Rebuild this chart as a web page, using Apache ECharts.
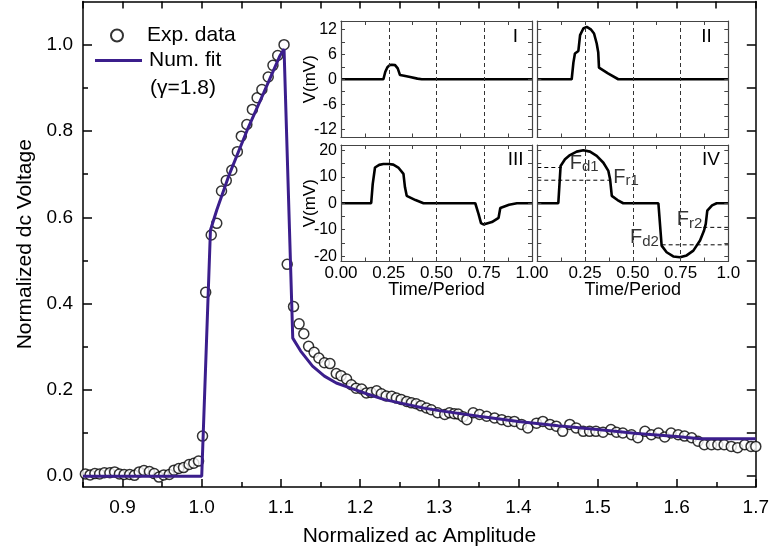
<!DOCTYPE html>
<html><head><meta charset="utf-8">
<script src="https://cdn.jsdelivr.net/npm/echarts@6/dist/echarts.min.js"></script>
<style>html,body{margin:0;padding:0;background:#fff}#c{width:772px;height:552px}</style>
</head><body><div id="c"></div>
<script>
// ---------- main chart data ----------
const expX = [0.853,0.859,0.865,0.871,0.877,0.884,0.890,0.896,0.902,0.909,0.915,0.921,0.927,0.934,0.940,0.946,0.952,0.959,0.965,0.971,0.977,0.984,0.990,0.996,1.001,
1.005,1.012,1.019,1.025,1.031,1.038,1.045,1.050,1.057,1.064,1.070,1.076,1.084,1.090,1.096,1.104,
1.108,1.116,1.123,1.129,1.135,1.142,1.148,1.155,1.162,1.170,1.176,1.183,1.189,1.195,1.202,1.208,1.214,1.221,1.227,1.233,1.240,1.246,1.252,1.259,1.265,1.271,1.277,1.284,1.290,1.298,
1.307,1.313,1.319,1.324,1.330,1.335,1.343,1.351,1.360,1.370,1.379,1.387,1.395,1.404,1.412,1.423,1.431,1.440,1.448,1.456,1.465,1.473,1.482,1.490,1.498,
1.507,1.517,1.524,1.532,1.543,1.551,1.560,1.568,1.577,1.585,1.593,1.602,1.610,1.619,1.627,1.635,1.644,1.652,1.660,1.669,1.677,1.686,1.694,1.700];
const expY = [0.005,0.003,0.006,0.005,0.008,0.008,0.010,0.005,0.004,0.004,0.002,0.010,0.013,0.011,0.006,-0.002,0.003,0.004,0.014,0.018,0.020,0.027,0.030,0.035,0.093,
0.426,0.559,0.586,0.661,0.685,0.709,0.752,0.788,0.815,0.850,0.877,0.896,0.925,0.952,0.975,1.000,
0.491,0.393,0.353,0.330,0.301,0.287,0.274,0.263,0.261,0.238,0.233,0.225,0.212,0.204,0.202,0.193,0.194,0.198,0.191,0.186,0.185,0.181,0.178,0.173,0.170,0.168,0.163,0.158,0.154,0.147,
0.143,0.147,0.145,0.144,0.138,0.131,0.147,0.143,0.139,0.135,0.131,0.127,0.127,0.120,0.112,0.123,0.127,0.120,0.116,0.104,0.120,0.112,0.104,0.104,0.104,
0.102,0.108,0.102,0.100,0.096,0.089,0.104,0.096,0.100,0.091,0.100,0.096,0.093,0.089,0.081,0.073,0.073,0.073,0.073,0.069,0.066,0.073,0.069,0.069];
const fitX = [0.85,1.0,1.011,1.019,1.035,1.057,1.078,1.099,1.104,1.115,1.125,1.14,1.155,1.17,1.19,1.21,1.23,1.25,1.28,1.3,1.35,1.4,1.45,1.5,1.55,1.6,1.63,1.7];
const fitY = [0.0,0.0,0.57,0.617,0.70,0.80,0.887,0.975,0.99,0.32,0.29,0.255,0.232,0.216,0.203,0.19,0.178,0.17,0.158,0.152,0.139,0.127,0.117,0.108,0.099,0.092,0.087,0.087];

const mainXLabels = [0.9,1.0,1.1,1.2,1.3,1.4,1.5,1.6,1.7];
const mainXMinorTicks = [0.85,0.95,1.05,1.15,1.25,1.35,1.45,1.55,1.65];
const mainXAllTicks = [0.85,0.9,0.95,1.0,1.05,1.1,1.15,1.2,1.25,1.3,1.35,1.4,1.45,1.5,1.55,1.6,1.65,1.7];
const mainYLabels = [0.0,0.2,0.4,0.6,0.8,1.0];
const mainYMinorTicks = [0.1,0.3,0.5,0.7,0.9];
const mainYAllTicks = [0.0,0.1,0.2,0.3,0.4,0.5,0.6,0.7,0.8,0.9,1.0];

// ---------- inset data ----------
const tI = [0,0.222,0.232,0.243,0.255,0.266,0.283,0.297,0.309,0.33,0.362,0.4,0.423,1];
const vI = [0,0,1.8,2.9,3.4,3.5,3.4,2.6,1.0,0.85,0.55,0.15,0,0];
const tII = [0,0.18,0.189,0.197,0.215,0.224,0.241,0.259,0.28,0.297,0.311,0.319,0.323,0.37,0.424,1];
const vII = [0,0,4,6.2,6.8,10.6,12.2,12.6,12.0,11,8.6,6.5,2.8,1.4,0,0];
const tIII = [0,0.158,0.166,0.178,0.2,0.222,0.25,0.274,0.3,0.327,0.335,0.344,0.39,0.432,0.703,0.72,0.733,0.746,0.79,0.825,0.834,0.88,0.921,1];
const vIII = [0,0,7.2,13.5,14.5,14.8,14.8,14.6,13.5,11.1,6,2.8,1.2,0,0,-4,-7.5,-8,-7.1,-5.5,-1.8,-0.6,0,0];
const tIV = [0,0.11,0.122,0.145,0.171,0.206,0.241,0.276,0.311,0.346,0.372,0.381,0.39,0.42,0.45,0.634,0.651,0.677,0.712,0.747,0.782,0.817,0.852,0.873,0.882,0.89,0.915,0.939,1];
const vIV = [0,0,14.1,16.6,18.2,19.5,20,19.5,17.9,15.3,12.2,9.1,2.8,1.2,0,0,-16,-18.5,-20.1,-20.4,-19.7,-17.9,-14.1,-10.3,-7.8,-2.8,-0.8,0,0];

const guideNames = ['Fd1','Fr1','Fd2','Fr2'];
const guideT = [[0,0.128],[0,0.381],[0.651,1],[0.869,1]];
const guideV = [13.5,8.7,-15.7,-9.1];
const annoMain = ['F','F','F','F'];
const annoSub = ['d1','r1','d2','r2'];
const annoT = [0.17,0.398,0.485,0.73];
const annoV = [15,9.7,-13.1,-6.3];

const smallYTicks = [-12,-9,-6,-3,0,3,6,9,12];
const smallYLabels = [-12,-6,0,6,12];
const bigYTicks = [-20,-15,-10,-5,0,5,10,15,20];
const bigYLabels = [-20,-10,0,10,20];
const panelNames = ['I','II','III','IV'];

// ---------- layout ----------
const FONT = 'Liberation Sans, Arial, Helvetica, sans-serif';
const M = {l:83, t:1.5, r:756, b:487};
const P = [
  {l:341, t:21, w:191, h:116.5},
  {l:537.3, t:21, w:191, h:116.5},
  {l:341, t:145, w:191, h:116.5},
  {l:537.3, t:145, w:191, h:116.5}
];
const W = 772, H = 552;

const grids = [];
const xAxes = [], yAxes = [], series = [];
grids.push({left:M.l, top:M.t, width:M.r-M.l, height:M.b-M.t, containLabel:false});
grids.push({left:M.l, top:M.t, width:M.r-M.l, height:M.b-M.t, containLabel:false});
P.forEach(p => grids.push({left:p.l, top:p.t, width:p.w, height:p.h, show:true, backgroundColor:'#fff', borderWidth:0}));

const axLine = {show:true, onZero:false, lineStyle:{color:'#000', width:1.5}};
xAxes.push({type:'value', gridIndex:0, min:0.85, max:1.7, position:'bottom',
  axisLine:axLine, splitLine:{show:false},
  axisTick:{show:true, inside:true, length:8, customValues:mainXLabels, lineStyle:{color:'#000', width:1.5}},
  axisLabel:{customValues:mainXLabels, margin:11, fontSize:19, color:'#000', fontFamily:FONT, formatter:v=>v.toFixed(1)},
  name:'Normalized ac Amplitude', nameLocation:'middle', nameGap:39, nameMoveOverlap:false,
  nameTextStyle:{fontSize:21, color:'#000', fontFamily:FONT}});
xAxes.push({type:'value', gridIndex:0, min:0.85, max:1.7, position:'top',
  axisLine:axLine, splitLine:{show:false}, axisLabel:{show:false},
  axisTick:{show:true, inside:true, length:7, customValues:mainXAllTicks, lineStyle:{color:'#000', width:1.5}}});
xAxes.push({type:'value', gridIndex:1, min:0.85, max:1.7, position:'bottom',
  axisLine:{show:false, onZero:false}, splitLine:{show:false}, axisLabel:{show:false},
  axisTick:{show:true, inside:true, length:5, customValues:mainXMinorTicks, lineStyle:{color:'#000', width:1.5}}});
yAxes.push({type:'value', gridIndex:0, min:-0.025, max:1.1, position:'left',
  axisLine:axLine, splitLine:{show:false},
  axisTick:{show:true, inside:true, length:9, customValues:mainYLabels, lineStyle:{color:'#000', width:1.5}},
  axisLabel:{customValues:mainYLabels, margin:10, fontSize:19, color:'#000', fontFamily:FONT, formatter:v=>v.toFixed(1)},
  name:'Normalized dc Voltage', nameLocation:'middle', nameGap:47, nameMoveOverlap:false,
  nameTextStyle:{fontSize:21, color:'#000', fontFamily:FONT}});
yAxes.push({type:'value', gridIndex:0, min:-0.025, max:1.1, position:'right',
  axisLine:axLine, splitLine:{show:false}, axisLabel:{show:false},
  axisTick:{show:true, inside:true, length:9, customValues:mainYAllTicks, lineStyle:{color:'#000', width:1.5}}});
yAxes.push({type:'value', gridIndex:1, min:-0.025, max:1.1, position:'left',
  axisLine:{show:false, onZero:false}, splitLine:{show:false}, axisLabel:{show:false},
  axisTick:{show:true, inside:true, length:5, customValues:mainYMinorTicks, lineStyle:{color:'#000', width:1.5}}});

const insetLine = {show:true, onZero:false, lineStyle:{color:'#444', width:1.2}};
const insetIdx = [];
P.forEach((p, i) => {
  const gi = i + 2;
  const big = i >= 2;
  const showX = i >= 2, showY = (i % 2 === 0);
  const yMin = big ? -22 : -14, yMax = big ? 22 : 14;
  const yT = big ? bigYTicks : smallYTicks, yL = big ? bigYLabels : smallYLabels;
  const xb = xAxes.length;
  xAxes.push({type:'value', gridIndex:gi, min:0, max:1, interval:0.25, position:'bottom', z:8,
    axisLine:insetLine,
    axisTick:{show:true, inside:true, length:4, lineStyle:{color:'#444'}},
    minorTick:{show:true, splitNumber:2, length:4, lineStyle:{color:'#444'}},
    splitLine:{show:true, lineStyle:{type:[4,3], color:'#333', width:1}},
    axisLabel:{show:showX, margin:3, fontSize:17, color:'#000', fontFamily:FONT,
      formatter: v => (i === 3 ? (v === 0 ? '' : (v === 1 ? '1.0' : v.toFixed(2))) : v.toFixed(2))},
    name: showX ? 'Time/Period' : '', nameLocation:'middle', nameGap:20, nameMoveOverlap:false,
    nameTextStyle:{fontSize:18, color:'#000', fontFamily:FONT}});
  xAxes.push({type:'value', gridIndex:gi, min:0, max:1, interval:0.25, position:'top', z:8,
    axisLine:insetLine,
    axisTick:{show:true, inside:true, length:4, lineStyle:{color:'#444'}},
    minorTick:{show:true, splitNumber:2, length:4, lineStyle:{color:'#444'}},
    splitLine:{show:false}, axisLabel:{show:false}});
  const yl = yAxes.length;
  yAxes.push({type:'value', gridIndex:gi, min:yMin, max:yMax, position:'left', z:8,
    axisLine:insetLine, splitLine:{show:false},
    axisTick:{show:true, inside:true, length:4, customValues:yT, lineStyle:{color:'#444'}},
    axisLabel:{show:showY, customValues:yL, margin:4, fontSize:16, color:'#000', fontFamily:FONT},
    name: showY ? 'V(mV)' : '', nameLocation:'middle', nameGap:22, nameMoveOverlap:false,
    nameTextStyle:{fontSize:17, color:'#000', fontFamily:FONT}});
  yAxes.push({type:'value', gridIndex:gi, min:yMin, max:yMax, position:'right', z:8,
    axisLine:insetLine, splitLine:{show:false}, axisLabel:{show:false},
    axisTick:{show:true, inside:true, length:4, customValues:yT, lineStyle:{color:'#444'}}});
  insetIdx.push({x:xb, y:yl});
});

series.push({name:'Exp. data', type:'scatter', xAxisIndex:0, yAxisIndex:0, z:3,
  symbol:'circle', symbolSize:10,
  itemStyle:{color:'#fff', borderColor:'#000', borderWidth:1.5},
  data: expX.map((x, k) => [x, expY[k]])});
series.push({name:'Num. fit', type:'line', xAxisIndex:0, yAxisIndex:0, z:4,
  showSymbol:false, symbol:'none',
  lineStyle:{color:'#3b1e8c', width:3}, itemStyle:{color:'#3b1e8c'},
  data: fitX.map((x, k) => [x, fitY[k]])});

const insetT = [tI, tII, tIII, tIV], insetV = [vI, vII, vIII, vIV];
insetT.forEach((ts, i) => {
  series.push({type:'line', xAxisIndex:insetIdx[i].x, yAxisIndex:insetIdx[i].y, z:6,
    showSymbol:false, symbol:'none', lineStyle:{color:'#000', width:2.6},
    data: ts.map((t, k) => [t, insetV[i][k]])});
});
guideT.forEach((ts, k) => {
  series.push({name:guideNames[k], type:'line', xAxisIndex:insetIdx[3].x, yAxisIndex:insetIdx[3].y, z:6,
    showSymbol:false, symbol:'none', lineStyle:{color:'#000', width:1, type:[4,3]},
    data: ts.map(t => [t, guideV[k]])});
});
series.push({type:'scatter', xAxisIndex:insetIdx[3].x, yAxisIndex:insetIdx[3].y, z:7,
  symbolSize:0, silent:true,
  label:{show:true, position:'right', distance:0, color:'#000', fontFamily:FONT,
    formatter: p => '{f|' + annoMain[p.dataIndex] + '}{s|' + annoSub[p.dataIndex] + '}',
    rich:{f:{fontSize:20, lineHeight:22, verticalAlign:'middle', color:'#000', fontFamily:FONT},
          s:{fontSize:15, lineHeight:6, verticalAlign:'bottom', color:'#000', fontFamily:FONT}}},
  data: annoT.map((t, k) => [t, annoV[k]])});

const numOff = [{dx:14, dy:16}, {dx:16.5, dy:15.5}, {dx:8.5, dy:15}, {dx:8.3, dy:15}];
const graphics = P.map((p, i) => ({type:'text', z:100,
  x: p.l + p.w - numOff[i].dx, y: p.t + numOff[i].dy,
  style:{text:panelNames[i], fontSize:19, fill:'#000', fontFamily:FONT, align:'right', verticalAlign:'middle'}}));
graphics.push({type:'text', z:100, x:150, y:88,
  style:{text:'(γ=1.8)', fontSize:21, fill:'#000', fontFamily:FONT, align:'left', verticalAlign:'middle'}});

const legendText = {fontSize:21, color:'#000', fontFamily:FONT, padding:[0,0,0,2]};
const chart = echarts.init(document.getElementById('c'), null, {renderer:'canvas', width:W, height:H});
chart.setOption({
  animation:false,
  backgroundColor:'#fff',
  textStyle:{fontFamily:FONT},
  grid:grids, xAxis:xAxes, yAxis:yAxes, series:series,
  legend:[
    {data:['Exp. data'], left:105, top:20, padding:5, itemWidth:46, itemHeight:12, selectedMode:false, textStyle:legendText},
    {data:[{name:'Num. fit', icon:'rect'}], left:90, top:45, padding:5, itemWidth:47, itemHeight:3, selectedMode:false, textStyle:legendText}
  ],
  graphic:graphics
});
</script></body></html>
